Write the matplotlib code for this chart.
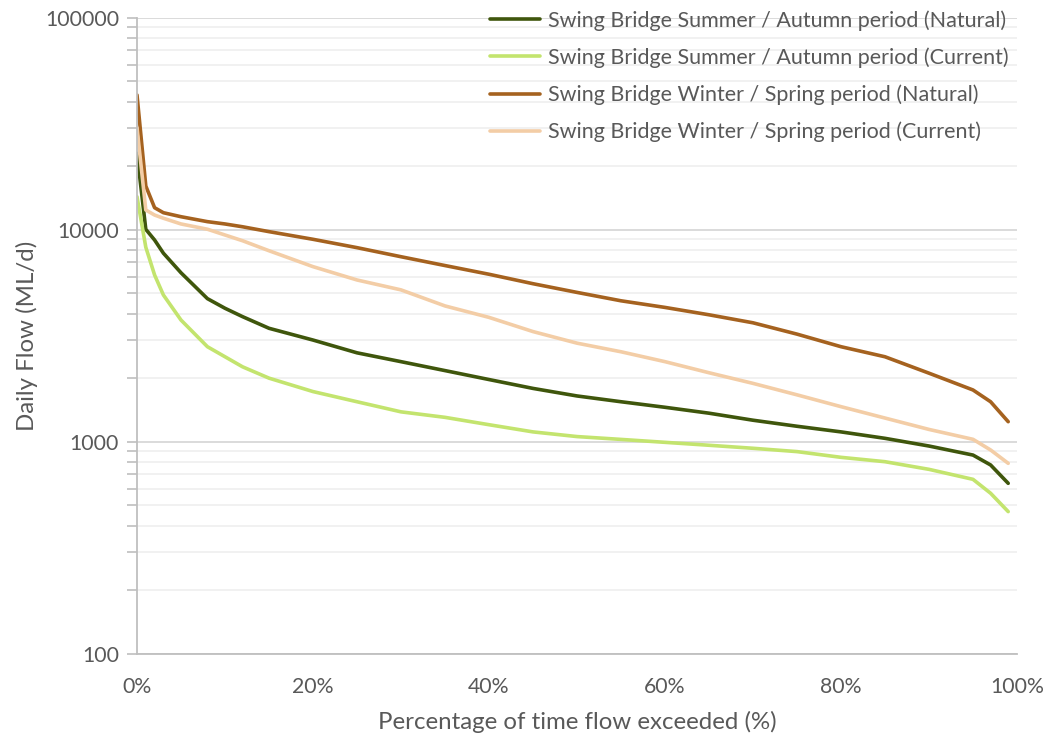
import matplotlib
matplotlib.use("Agg")
import matplotlib.pyplot as plt
from matplotlib.ticker import FixedLocator, LogLocator, NullFormatter, FuncFormatter

plt.rcParams['font.family'] = ['Lato', 'DejaVu Sans']

pct = [0, 1, 2, 3, 5, 8, 10, 12, 15, 20, 25, 30, 35, 40, 45, 50, 55, 60, 65,
       70, 75, 80, 85, 90, 95, 97, 99]

summer_natural = [22870, 10020, 8920, 7730, 6250, 4720, 4250, 3880, 3420, 3010, 2620,
                  2380, 2160, 1960, 1780, 1640, 1540, 1450, 1360, 1260, 1180, 1110,
                  1035, 952, 863, 775, 635]
summer_current = [14280, 8250, 6100, 4910, 3740, 2800, 2510, 2250, 1990, 1720, 1540,
                  1380, 1300, 1200, 1110, 1055, 1023, 991, 960, 929, 896, 842, 803,
                  739, 663, 570, 467]
winter_natural = [43100, 16040, 12670, 12000, 11490, 10890, 10620, 10300, 9770, 8990,
                  8210, 7440, 6760, 6150, 5550, 5050, 4610, 4290, 3960, 3630, 3210,
                  2800, 2510, 2100, 1750, 1540, 1240]
winter_current = [30200, 12360, 11700, 11300, 10620, 10030, 9420, 8850, 7940, 6680,
                  5780, 5190, 4360, 3850, 3300, 2910, 2650, 2380, 2110, 1880, 1660,
                  1460, 1290, 1140, 1024, 912, 789]

labels = ["Swing Bridge Summer / Autumn period (Natural)",
          "Swing Bridge Summer / Autumn period (Current)",
          "Swing Bridge Winter / Spring period (Natural)",
          "Swing Bridge Winter / Spring period (Current)"]
colors = ["#3f560c", "#c3e46e", "#a5621f", "#f3cda6"]
xticks = [0, 20, 40, 60, 80, 100]

fig = plt.figure(figsize=(10.51, 7.42), dpi=100)
ax = fig.add_axes([137/1051, 1-653.5/742, 880/1051, 636/742])

for series, lab, col in zip([summer_natural, summer_current, winter_natural, winter_current],
                            labels, colors):
    ax.plot(pct, series, color=col, lw=2.6, label=lab, solid_joinstyle='round',
            solid_capstyle='round')

ax.set_yscale('log')
ax.set_ylim(100, 100000)
ax.set_xlim(0, 100)
ax.yaxis.set_major_locator(FixedLocator([100, 1000, 10000, 100000]))
ax.yaxis.set_major_formatter(FuncFormatter(lambda v, p: f"{int(round(v))}"))
ax.yaxis.set_minor_locator(LogLocator(base=10, subs=range(2, 10)))
ax.yaxis.set_minor_formatter(NullFormatter())
ax.set_xticks(xticks)
ax.set_xticklabels([f"{t}%" for t in xticks])

ax.grid(True, which='major', axis='y', color='#d4d4d4', lw=1.2)
ax.grid(True, which='minor', axis='y', color='#efefef', lw=1.2)
ax.set_axisbelow(True)

for s in ['top', 'right']:
    ax.spines[s].set_visible(False)
for s in ['left', 'bottom']:
    ax.spines[s].set_color('#bfbfbf')
    ax.spines[s].set_linewidth(1.3)

ax.tick_params(axis='y', which='both', direction='out', color='#bfbfbf', width=1.2,
               labelsize=15.3, labelcolor='#595959', pad=6)
ax.tick_params(axis='y', which='major', length=7)
ax.tick_params(axis='y', which='minor', length=7)
ax.tick_params(axis='x', length=0, labelsize=15.3, labelcolor='#595959', pad=17)

ax.set_xlabel("Percentage of time flow exceeded (%)", fontsize=17.3, color='#595959', labelpad=10)
ax.set_ylabel("Daily Flow (ML/d)", fontsize=17.3, color='#595959', labelpad=5)

leg = ax.legend(loc='upper right', bbox_to_anchor=(1.0, 1.025), frameon=False,
                fontsize=15.5, labelcolor='#595959', handlelength=2.3, handletextpad=0.37,
                labelspacing=0.77, borderaxespad=0.0)

fig.savefig("out.png", dpi=100)
